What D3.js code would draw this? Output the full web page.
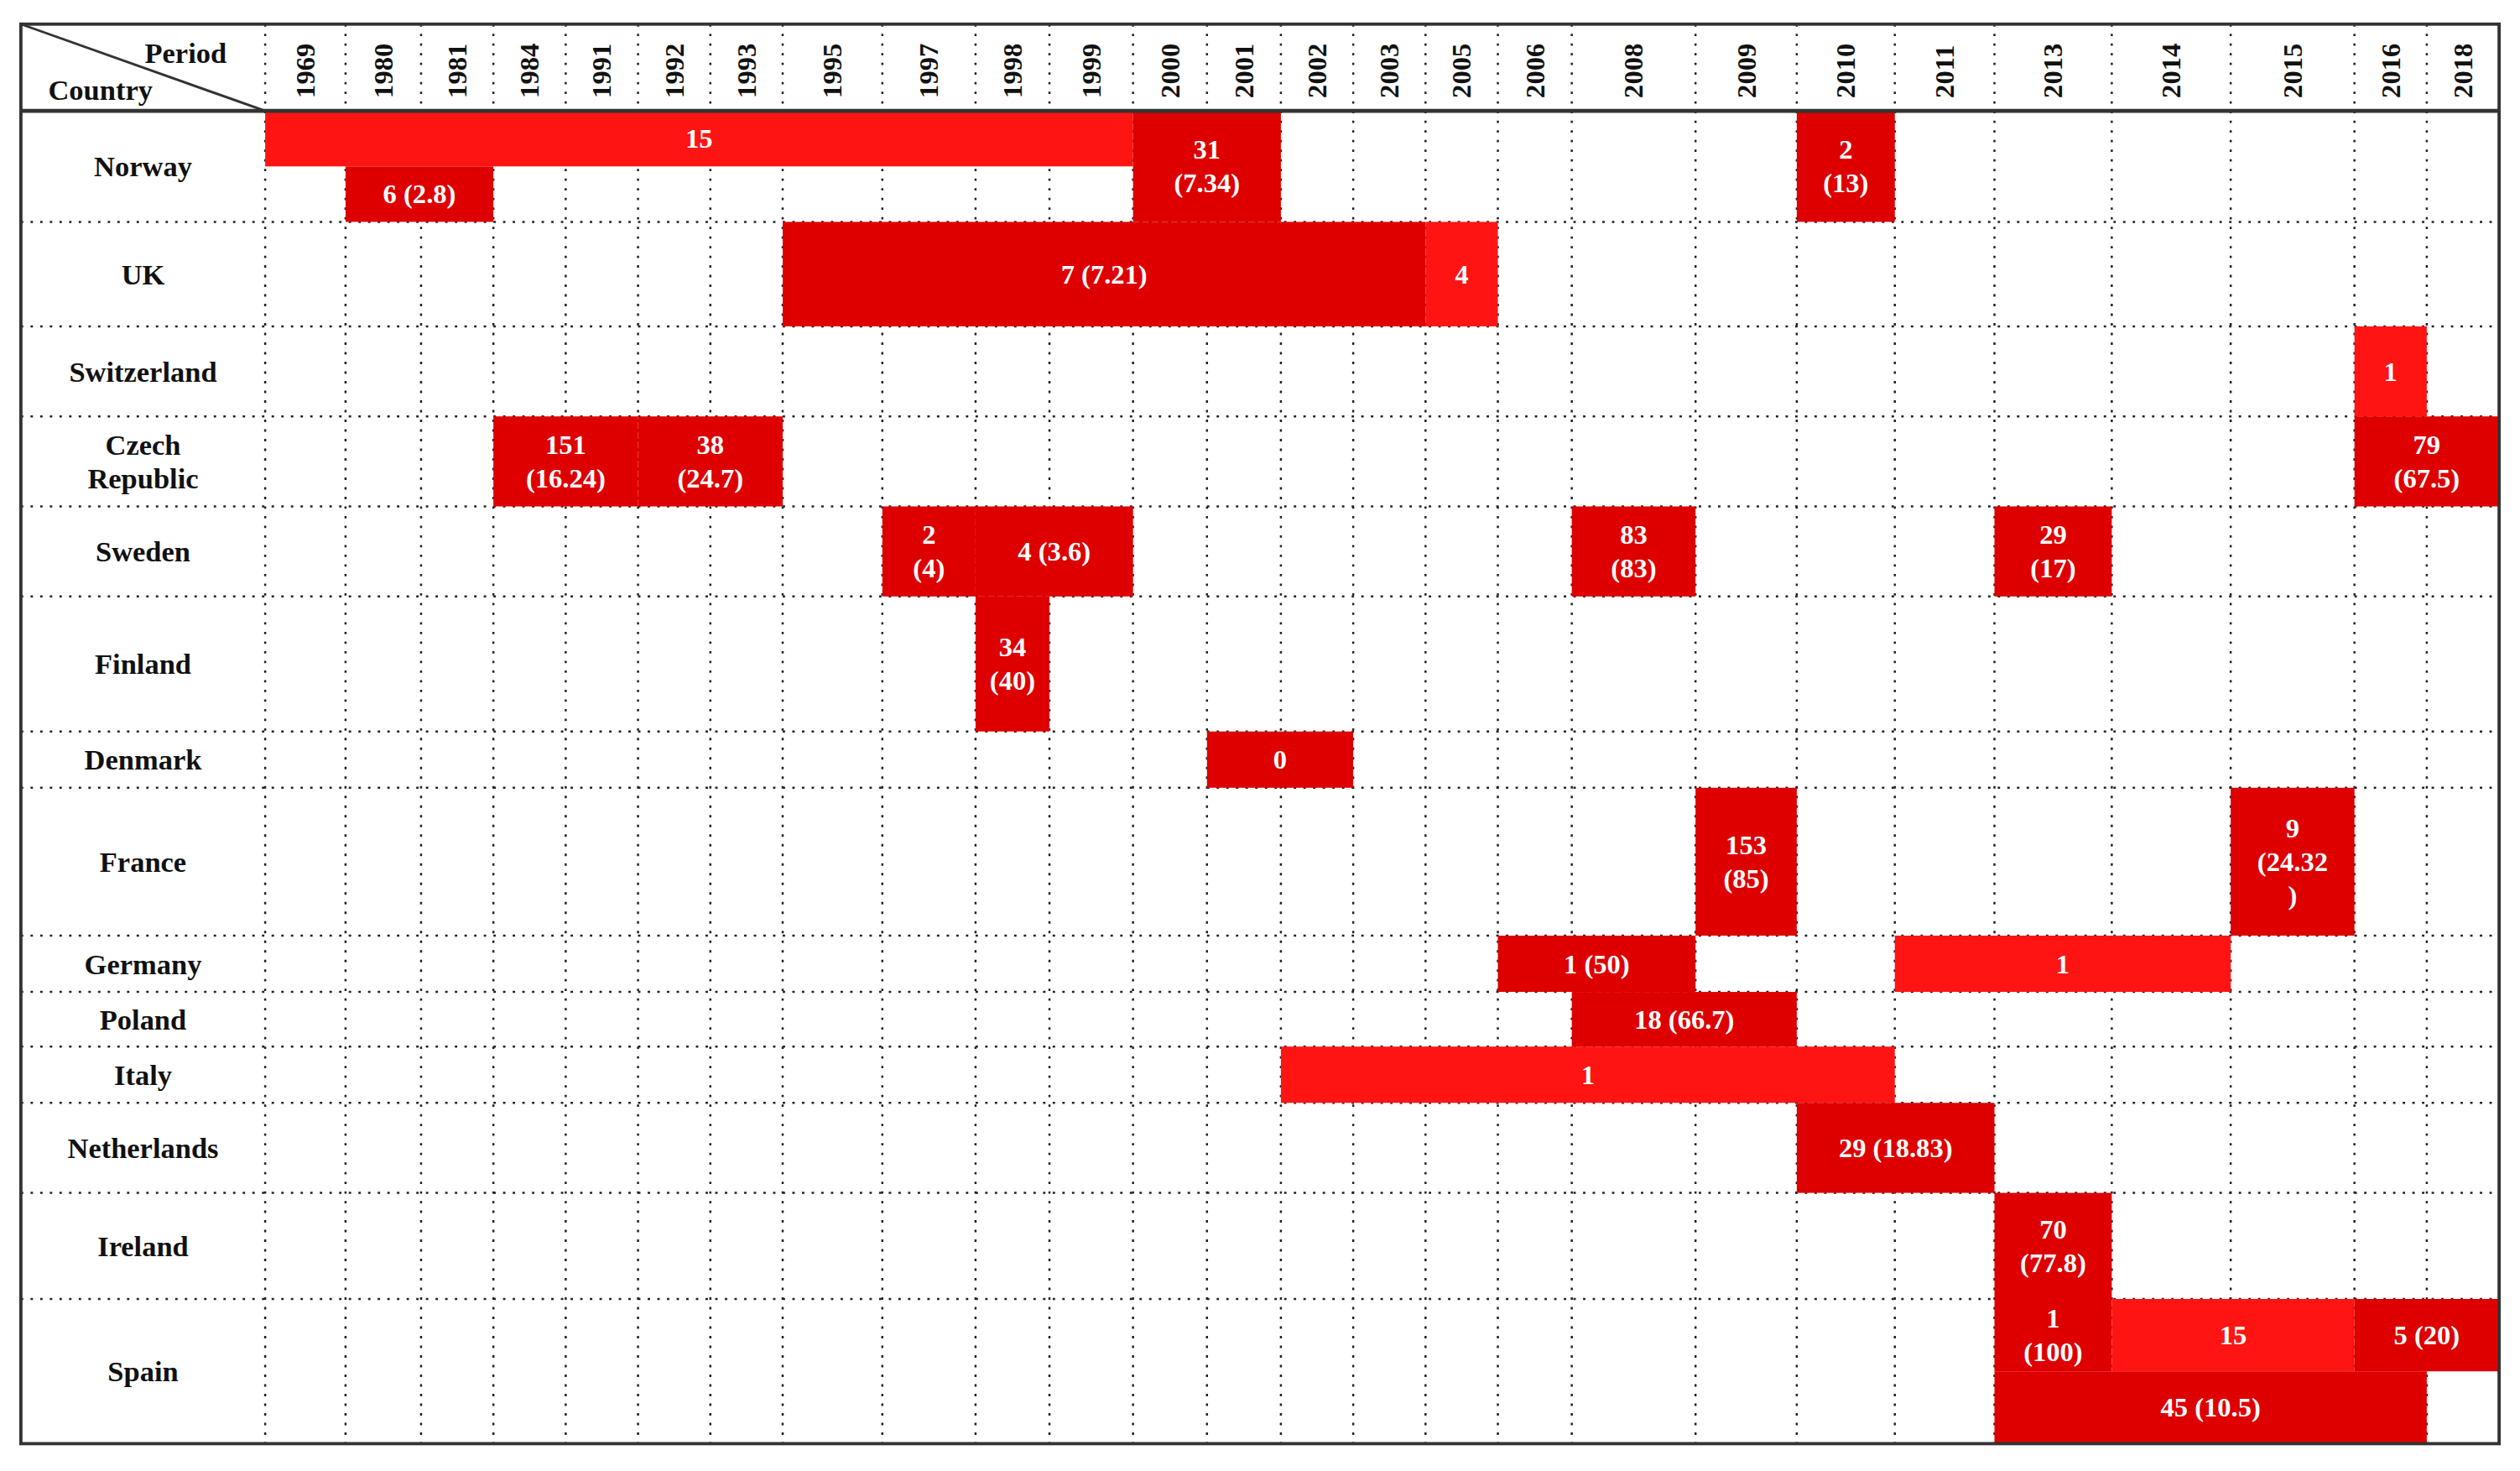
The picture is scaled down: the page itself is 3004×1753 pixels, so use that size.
<!DOCTYPE html>
<html><head><meta charset="utf-8">
<script src="https://cdn.jsdelivr.net/npm/d3@7"></script>
<style>body{margin:0;background:#fff}</style></head>
<body><svg id="c"></svg>
<script>
const years = ["1969","1980","1981","1984","1991","1992","1993","1995","1997","1998","1999","2000","2001","2002","2003","2005","2006","2008","2009","2010","2011","2013","2014","2015","2016","2018"];
const countries = ["Norway","UK","Switzerland","Czech\nRepublic","Sweden","Finland","Denmark","France","Germany","Poland","Italy","Netherlands","Ireland","Spain"];
// column widths and row heights (layout)
const colW = [50,47,45,45,45,45,45,62,58,46,52,46,46,45,45,45,46,77,63,61,62,73,74,77,45,45];
const rowH = [69,65,56,56,56,84,35,92,35,34,35,56,66,90];
// marks: country, first year, last year, part, label, bright
const mCountry = ["Norway","Norway","Norway","Norway","UK","UK","Switzerland","Czech\nRepublic","Czech\nRepublic","Czech\nRepublic","Sweden","Sweden","Sweden","Sweden","Finland","Denmark","France","France","Germany","Germany","Poland","Italy","Netherlands","Ireland","Spain","Spain","Spain","Spain"];
const mStart = ["1969","1980","2000","2010","1995","2005","2016","1984","1992","2016","1997","1998","2008","2013","1998","2001","2009","2015","2006","2011","2008","2002","2010","2013","2013","2014","2016","2013"];
const mEnd = ["1999","1981","2001","2010","2003","2005","2016","1991","1993","2018","1997","1999","2008","2013","1998","2002","2009","2015","2008","2014","2009","2010","2011","2013","2013","2015","2018","2016"];
const mPart = ["top","bottom","full","full","full","full","full","full","full","full","full","full","full","full","full","full","full","full","full","full","full","full","full","full","top","top","top","bottom"];
const mLabel = ["15","6 (2.8)","31\n(7.34)","2\n(13)","7 (7.21)","4","1","151\n(16.24)","38\n(24.7)","79\n(67.5)","2\n(4)","4 (3.6)","83\n(83)","29\n(17)","34\n(40)","0","153\n(85)","9\n(24.32\n)","1 (50)","1","18 (66.7)","1","29 (18.83)","70\n(77.8)","1\n(100)","15","5 (20)","45 (10.5)"];
const mBright = [1,0,0,0,0,1,1,0,0,0,0,0,0,0,0,0,0,0,0,1,0,1,0,0,0,1,0,0];

const W=1568,H=915, L=13, T=15, cx0=165, hdr=69;
const svg=d3.select("#c").attr("width",3004).attr("height",1753).attr("viewBox",`0 0 ${W} ${H}`);
const font="'Liberation Serif', 'DejaVu Serif', serif";
const cum=a=>a.reduce((r,v)=>(r.push(r[r.length-1]+v),r),[0]);
const xs=d3.scaleOrdinal().domain(years).range(cum(colW).slice(0,-1).map(v=>cx0+v));
const xe=d3.scaleOrdinal().domain(years).range(cum(colW).slice(1).map(v=>cx0+v));
const ys=d3.scaleOrdinal().domain(countries).range(cum(rowH).slice(0,-1).map(v=>hdr+v));
const ye=d3.scaleOrdinal().domain(countries).range(cum(rowH).slice(1).map(v=>hdr+v));
const R=cx0+d3.sum(colW), B=hdr+d3.sum(rowH);
const g=svg.append("g");
// grid
const dot={stroke:"#222","stroke-width":1.3,"stroke-dasharray":"1.5,4.5"};
years.forEach(y=>{g.append("line").attr("x1",xs(y)).attr("x2",xs(y)).attr("y1",T).attr("y2",B).attr("stroke",dot.stroke).attr("stroke-width",dot["stroke-width"]).attr("stroke-dasharray",dot["stroke-dasharray"]);});
countries.slice(1).forEach(c=>{g.append("line").attr("x1",L).attr("x2",R).attr("y1",ys(c)).attr("y2",ys(c)).attr("stroke",dot.stroke).attr("stroke-width",dot["stroke-width"]).attr("stroke-dasharray",dot["stroke-dasharray"]);});
// marks
mLabel.forEach((lab,i)=>{
  const c=mCountry[i];let y0=ys(c),y1=ye(c);const mid=(y0+y1)/2;
  if(mPart[i]==="top")y1=mid; if(mPart[i]==="bottom")y0=mid;
  const x0=xs(mStart[i]),x1=xe(mEnd[i]);
  g.append("rect").attr("x",x0).attr("y",y0).attr("width",x1-x0).attr("height",y1-y0).attr("fill",mBright[i]?"#ff1414":"#de0000");
  const lines=lab.split("\n");const lh=21;
  const t=g.append("text").attr("x",(x0+x1)/2).attr("y",(y0+y1)/2-(lines.length-1)*lh/2).attr("text-anchor","middle").attr("dominant-baseline","central").attr("fill","#fff").attr("font-family",font).attr("font-weight","bold").attr("font-size",17);
  lines.forEach((l,k)=>t.append("tspan").attr("x",(x0+x1)/2).attr("dy",k?lh:0).text(l));
});
// countries
countries.forEach(c=>{
  const lines=c.split("\n");const lh=21;const cy=(ys(c)+ye(c))/2-(lines.length-1)*lh/2;
  const t=g.append("text").attr("x",(L+cx0)/2).attr("y",cy).attr("text-anchor","middle").attr("dominant-baseline","central").attr("font-family",font).attr("font-weight","bold").attr("font-size",18).attr("fill","#111");
  lines.forEach((l,k)=>t.append("tspan").attr("x",(L+cx0)/2).attr("dy",k?lh:0).text(l));
});
// years
years.forEach(y=>{
  const x=(xs(y)+xe(y))/2;
  g.append("text").attr("transform",`translate(${x},${hdr-8}) rotate(-90)`).attr("dominant-baseline","central").attr("font-family",font).attr("font-weight","bold").attr("font-size",17).attr("fill","#111").text(y);
});
// header
g.append("line").attr("x1",L).attr("y1",T).attr("x2",cx0).attr("y2",hdr).attr("stroke","#333").attr("stroke-width",1.5);
g.append("text").attr("x",141).attr("y",33).attr("text-anchor","end").attr("font-family",font).attr("font-weight","bold").attr("font-size",18).attr("fill","#111").attr("dominant-baseline","central").text("Period");
g.append("text").attr("x",30).attr("y",56).attr("font-family",font).attr("font-weight","bold").attr("font-size",18).attr("fill","#111").attr("dominant-baseline","central").text("Country");
g.append("line").attr("x1",L).attr("x2",R).attr("y1",hdr).attr("y2",hdr).attr("stroke","#333").attr("stroke-width",2.5);
g.append("rect").attr("x",L).attr("y",T).attr("width",R-L).attr("height",B-T).attr("fill","none").attr("stroke","#333").attr("stroke-width",2);
</script></body></html>
